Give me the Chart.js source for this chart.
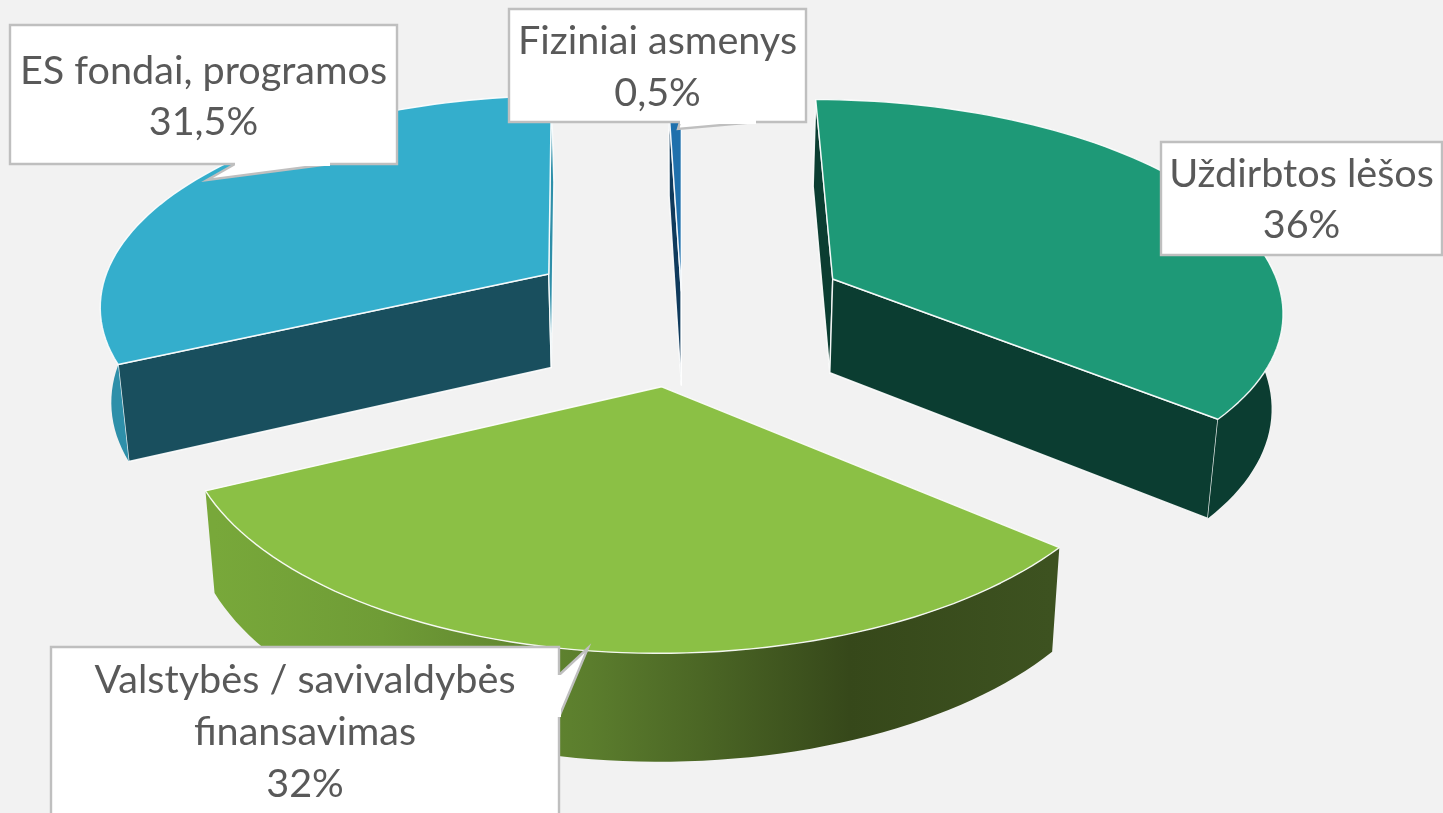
<!DOCTYPE html>
<html>
<head>
<meta charset="utf-8">
<title>Pajamų šaltiniai</title>
<script src="https://cdn.jsdelivr.net/npm/chart.js@4/dist/chart.umd.min.js"></script>
<style>
  html, body { margin: 0; padding: 0; background: #f2f2f2; overflow: hidden; }
  #wrap { width: 1443px; height: 813px; }
</style>
</head>
<body>
<div id="wrap"><canvas id="myChart"></canvas></div>
<script>
// Data
const categories = ['Uždirbtos lėšos', 'Valstybės / savivaldybės finansavimas', 'ES fondai, programos', 'Fiziniai asmenys'];
const shares = [36, 32, 31.5, 0.5];
const shareLabels = ['36%', '32%', '31,5%', '0,5%'];
const labelLines = [
    ['Uždirbtos lėšos', '36%'],
    ['Valstybės / savivaldybės', 'finansavimas', '32%'],
    ['ES fondai, programos', '31,5%'],
    ['Fiziniai asmenys', '0,5%']
];

// Styles
const topColors = ['#1e9977', '#8bc045', '#34aecc', '#1f70ac'];
const startWallColors = ['#0b3d31', '#37491a', '#194f5e', '#0f3a5c'];
const endWallColors = ['#0b3d31', '#76a537', '#2e8fa9', '#1f70ac'];
const outerColors = ['#0b3d31', null, '#2e8fa9', '#123f63'];
const explode = [170, 155, 160, 46];
const drawOrder = [2, 0, 3, 1];

// 3D look
const tilt = 0.465;
const perspective = 3500;
const depth = 95;
const bottomScale = 0.981;

// Callouts: box, tail and text baselines
const callouts = [
    { box: [1161, 142, 281, 113], tail: null, baselines: [187, 238] },
    { box: [51, 647, 508, 190], tail: [[559, 675], [588, 648], [559, 717]], baselines: [693, 745, 797] },
    { box: [10, 25, 387, 139], tail: [[330, 164], [207, 180], [235, 164]], baselines: [84, 135] },
    { box: [509, 9, 297, 113], tail: [[756, 122], [678, 129], [680, 122]], baselines: [54, 106] }
];

function project(el, u, v, bottom) {
    const s = 1 / (1 - v / perspective);
    const f = bottom ? bottomScale : 1;
    return [el.x + u * s * f, el.y + v * tilt * s * f + (bottom ? depth * s : 0)];
}

function polyArea(pts) {
    let sum = 0;
    pts.forEach((p, i) => {
        const q = pts[(i + 1) % pts.length];
        sum += p[0] * q[1] - q[0] * p[1];
    });
    return sum / 2;
}

function fillPoly(ctx, pts, fill, edge) {
    ctx.beginPath();
    pts.forEach((p, i) => i ? ctx.lineTo(p[0], p[1]) : ctx.moveTo(p[0], p[1]));
    ctx.closePath();
    ctx.fillStyle = fill;
    ctx.fill();
    if (edge) {
        ctx.strokeStyle = 'rgba(255,255,255,0.9)';
        ctx.lineWidth = 1.4;
        ctx.stroke();
    }
}

// Draws one slice of the pie from the arc element of Chart.js
function drawSlice(ctx, el, i) {
    const off = el.options.offset;
    const mid = (el.startAngle + el.endAngle) / 2;
    const ax = off * Math.cos(mid);
    const ay = off * Math.sin(mid);
    const steps = Math.max(2, Math.ceil((el.endAngle - el.startAngle) / 0.03));
    const rim = [];
    const angles = [];
    for (let k = 0; k <= steps; k++) {
        const a = el.startAngle + (el.endAngle - el.startAngle) * k / steps;
        angles.push(a);
        rim.push([ax + el.outerRadius * Math.cos(a), ay + el.outerRadius * Math.sin(a)]);
    }
    const first = rim[0];
    const last = rim[rim.length - 1];
    const topRim = rim.map(p => project(el, p[0], p[1], false));

    // cut walls, only when they face the viewer
    const wallPoly = p => [
        project(el, ax, ay, false), project(el, p[0], p[1], false),
        project(el, p[0], p[1], true), project(el, ax, ay, true)
    ];
    const startWall = wallPoly(first);
    const endWall = wallPoly(last);
    if (polyArea(startWall) < 0) fillPoly(ctx, startWall, startWallColors[i], true);
    if (polyArea(endWall) > 0) fillPoly(ctx, endWall, endWallColors[i], true);

    // outer wall, front part of the rim only
    const front = rim.filter((p, k) => Math.sin(angles[k]) > -0.05);
    if (front.length > 1) {
        let outer = outerColors[i];
        if (!outer) {
            const g = ctx.createLinearGradient(215, 0, 1050, 0);
            g.addColorStop(0, '#78a83a');
            g.addColorStop(0.2, '#6f9c36');
            g.addColorStop(0.45, '#5b7d2d');
            g.addColorStop(0.76, '#36481a');
            g.addColorStop(1, '#3d5220');
            outer = g;
        }
        const upper = front.map(p => project(el, p[0], p[1], false));
        const lower = front.map(p => project(el, p[0], p[1], true)).reverse();
        fillPoly(ctx, upper.concat(lower), outer, false);
    }

    // top face
    fillPoly(ctx, [project(el, ax, ay, false)].concat(topRim), topColors[i], true);
}

function drawCallout(ctx, c, lines) {
    const [x, y, w, h] = c.box;
    ctx.fillStyle = '#ffffff';
    ctx.strokeStyle = '#bfbfbf';
    ctx.lineWidth = 2.4;
    ctx.beginPath();
    ctx.rect(x, y, w, h);
    ctx.fill();
    ctx.stroke();
    if (c.tail) {
        ctx.beginPath();
        c.tail.forEach((p, i) => i ? ctx.lineTo(p[0], p[1]) : ctx.moveTo(p[0], p[1]));
        ctx.fill();
        ctx.stroke();
        // hide the box edge under the tail
        ctx.beginPath();
        ctx.moveTo(c.tail[0][0], c.tail[0][1]);
        ctx.lineTo(c.tail[2][0], c.tail[2][1]);
        ctx.lineWidth = 4;
        ctx.strokeStyle = '#ffffff';
        ctx.stroke();
    }
    ctx.fillStyle = '#595959';
    ctx.font = '39.6px Lato, "Open Sans", sans-serif';
    ctx.textAlign = 'center';
    ctx.textBaseline = 'alphabetic';
    lines.forEach((t, i) => ctx.fillText(t, x + w / 2, c.baselines[i]));
}

const pie3d = {
    id: 'pie3d',
    beforeDatasetDraw(chart, args) {
        const ctx = chart.ctx;
        const arcs = chart.getDatasetMeta(args.index).data;
        ctx.save();
        ctx.lineJoin = 'round';
        drawOrder.forEach(i => drawSlice(ctx, arcs[i], i));
        ctx.restore();
        return false;
    },
    afterDraw(chart) {
        const ctx = chart.ctx;
        ctx.save();
        callouts.forEach((c, i) => drawCallout(ctx, c, labelLines[i]));
        ctx.restore();
    }
};

new Chart(document.getElementById('myChart'), {
    type: 'pie',
    data: {
        labels: categories,
        datasets: [{
            label: 'Dalis, %',
            data: shares,
            backgroundColor: topColors,
            borderWidth: 0,
            offset: explode
        }]
    },
    options: {
        responsive: true,
        maintainAspectRatio: false,
        animation: false,
        radius: 453,
        layout: { padding: { right: 79, bottom: 189 } },
        plugins: { legend: { display: false }, tooltip: { enabled: false } }
    },
    plugins: [pie3d]
});
</script>
</body>
</html>
